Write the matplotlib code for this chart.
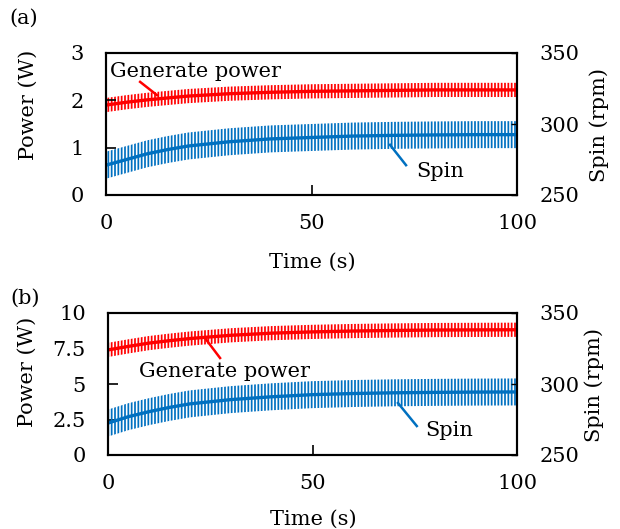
import matplotlib
matplotlib.use('Agg')
import matplotlib.pyplot as plt

# ---- data ----
time_s = [0, 5, 10, 15, 20, 30, 40, 50, 60, 70, 80, 90, 100]

power_a = [1.90, 1.96, 2.01, 2.05, 2.09, 2.14, 2.17, 2.19, 2.20, 2.21, 2.22, 2.22, 2.22]
power_a_half = 0.15
spin_a = [271.0, 275.0, 279.0, 282.0, 284.5, 287.5, 289.5, 290.5, 291.5, 292.0, 292.3, 292.5, 292.5]
spin_a_half = 9.5

power_b = [7.40, 7.65, 7.88, 8.05, 8.20, 8.43, 8.58, 8.67, 8.73, 8.77, 8.80, 8.81, 8.82]
power_b_half = 0.5
spin_b = [272.5, 277.0, 280.5, 283.5, 286.0, 289.0, 291.0, 292.5, 293.3, 293.8, 294.1, 294.3, 294.4]
spin_b_half = 9.5

x_ticks = [0, 50, 100]
power_a_ticks = [0, 1, 2, 3]
power_b_ticks = [0, 2.5, 5, 7.5, 10]
power_b_labels = ['0', '2.5', '5', '7.5', '10']
spin_ticks = [250, 300, 350]

RED = '#FF0000'
BLUE = '#0070C0'

plt.rcParams['font.family'] = ['DejaVu Serif']
plt.rcParams['hatch.linewidth'] = 1.25

W, H = 620, 529
fig = plt.figure(figsize=(W / 100, H / 100), dpi=100)


def px(x, y):
    return x / W, 1 - y / H


def band(ax, t, c, half, color):
    lo = [v - half for v in c]
    hi = [v + half for v in c]
    xs = list(t) + list(t)[::-1]
    ys = hi + lo[::-1]
    ax.fill(xs, ys, facecolor='none', edgecolor=color, hatch='|||||', linewidth=0)
    ax.plot(t, c, color=color, lw=2.4, solid_capstyle='butt')


def style(ax, right=False):
    for s in ax.spines.values():
        s.set_linewidth(1.5)
    ax.tick_params(axis='x', direction='in', length=7, width=1.2, pad=14, labelsize=15)
    if right:
        ax.tick_params(axis='y', direction='in', length=4, width=1.0, pad=16, labelsize=15)
    else:
        ax.tick_params(axis='y', direction='in', length=7, width=1.2, pad=16, labelsize=15)


panels = [
    dict(rect=[106 / W, 1 - 195 / H, 411 / W, 142 / H], power=power_a, phalf=power_a_half,
         spin=spin_a, shalf=spin_a_half, pticks=power_a_ticks, plabels=None, pmax=3,
         gp_text=(21.8, 2.60), gp_line=((8.3, 2.39), (12.4, 2.11)),
         sp_text=(81.3, 0.49), sp_line=((69.1, 1.06), (73.0, 0.63))),
    dict(rect=[108 / W, 1 - 455 / H, 409 / W, 142 / H], power=power_b, phalf=power_b_half,
         spin=spin_b, shalf=spin_b_half, pticks=power_b_ticks, plabels=power_b_labels, pmax=10,
         gp_text=(28.6, 5.85), gp_line=((23.7, 8.24), (27.4, 6.83)),
         sp_text=(83.4, 1.76), sp_line=((70.9, 3.66), (75.5, 2.04))),
]

for p in panels:
    ax = fig.add_axes(p['rect'])
    axr = ax.twinx()
    ax.set_xlim(0, 100)
    ax.set_ylim(0, p['pmax'])
    axr.set_ylim(250, 350)
    ax.set_xticks(x_ticks)
    ax.set_yticks(p['pticks'])
    if p['plabels'] is not None:
        ax.set_yticklabels(p['plabels'])
    axr.set_yticks(spin_ticks)
    style(ax)
    style(axr, right=True)

    band(ax, time_s, p['power'], p['phalf'], RED)
    band(axr, time_s, p['spin'], p['shalf'], BLUE)

    (x0, y0), (x1, y1) = p['gp_line']
    ax.plot([x0, x1], [y0, y1], color=RED, lw=1.8)
    ax.text(*p['gp_text'], 'Generate power', ha='center', va='center', fontsize=15)
    (x0, y0), (x1, y1) = p['sp_line']
    ax.plot([x0, x1], [y0, y1], color=BLUE, lw=1.8)
    ax.text(*p['sp_text'], 'Spin', ha='center', va='center', fontsize=15)

# labels
fig.text(*px(28, 105), 'Power (W)', rotation=90, ha='center', va='center', fontsize=15)
fig.text(*px(27, 372), 'Power (W)', rotation=90, ha='center', va='center', fontsize=15)
fig.text(*px(599, 125), 'Spin (rpm)', rotation=90, ha='center', va='center', fontsize=15)
fig.text(*px(594, 385), 'Spin (rpm)', rotation=90, ha='center', va='center', fontsize=15)
fig.text(*px(312, 262), 'Time (s)', ha='center', va='center', fontsize=15)
fig.text(*px(313, 519), 'Time (s)', ha='center', va='center', fontsize=15)
fig.text(*px(24, 18), '(a)', ha='center', va='center', fontsize=15)
fig.text(*px(25, 298), '(b)', ha='center', va='center', fontsize=15)

fig.savefig('out.png', dpi=100)
